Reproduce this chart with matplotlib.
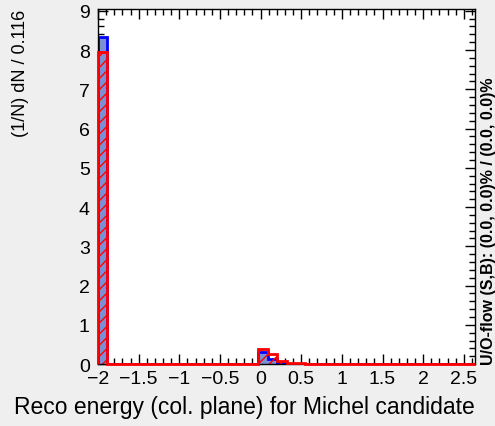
import numpy as np
import matplotlib.pyplot as plt
from matplotlib.ticker import MultipleLocator

plt.rcParams['font.family'] = ['Liberation Sans', 'DejaVu Sans']

# 40 bins of width 0.116 starting at -2
binLow = -2.0
binWidth = 0.116
nBins = 40
binEdges = binLow + binWidth * np.arange(nBins + 1)

# normalised counts per bin (only non-empty bins listed)
signalBins = [0, 17, 18, 19]
signalValues = [8.33, 0.30, 0.12, 0.03]
backgroundBins = [0, 17, 18, 19, 20, 21]
backgroundValues = [7.95, 0.38, 0.25, 0.07, 0.03, 0.02]

signalHist = np.zeros(nBins)
signalHist[signalBins] = signalValues
backgroundHist = np.zeros(nBins)
backgroundHist[backgroundBins] = backgroundValues

fig = plt.figure(figsize=(4.95, 4.27), dpi=100, facecolor='#efefef')
ax = fig.add_axes([0.198, 0.145, 0.762, 0.832])
ax.set_facecolor('white')

ax.stairs(signalHist, binEdges, fill=True, color='#7b8fd4', zorder=2)
ax.stairs(signalHist, binEdges, color='blue', linewidth=2, zorder=3)
ax.stairs(backgroundHist, binEdges, fill=True, facecolor='none', edgecolor='red',
          hatch='///', linewidth=0, zorder=4)
ax.stairs(backgroundHist, binEdges, color='red', linewidth=2, zorder=7, clip_on=False)

ax.set_xlim(binEdges[0], binEdges[-1])
ax.set_ylim(0, 9.05)

ax.xaxis.set_minor_locator(MultipleLocator(0.1))
ax.yaxis.set_minor_locator(MultipleLocator(0.2))
ax.set_xticks([-2, -1.5, -1, -0.5, 0, 0.5, 1, 1.5, 2, 2.5])
ax.set_xticklabels(['\u22122', '\u22121.5', '\u22121', '\u22120.5', '0', '0.5', '1', '1.5', '2', '2.5'])
ax.set_yticks(range(0, 10))

ax.tick_params(which='both', direction='in', top=True, right=True, labelsize=14, width=1)
ax.tick_params(which='major', length=7)
ax.tick_params(which='minor', length=4)
ax.tick_params(axis='x', pad=4)
ax.tick_params(axis='y', pad=6)
for s in ax.spines.values():
    s.set_linewidth(1)
    s.set_zorder(6)

ax.set_xlabel('Reco energy (col. plane) for Michel candidate', fontsize=16.5, loc='right', labelpad=6)
ax.set_ylabel('(1/N) dN / 0.116', fontsize=13, loc='top', labelpad=36)

fig.text(0.986, 0.145, 'U/O-flow (S,B): (0.0, 0.0)% / (0.0, 0.0)%', rotation=90,
         fontsize=11.5, fontweight='bold', ha='center', va='bottom')

fig.savefig('out.png', dpi=100, facecolor=fig.get_facecolor())
